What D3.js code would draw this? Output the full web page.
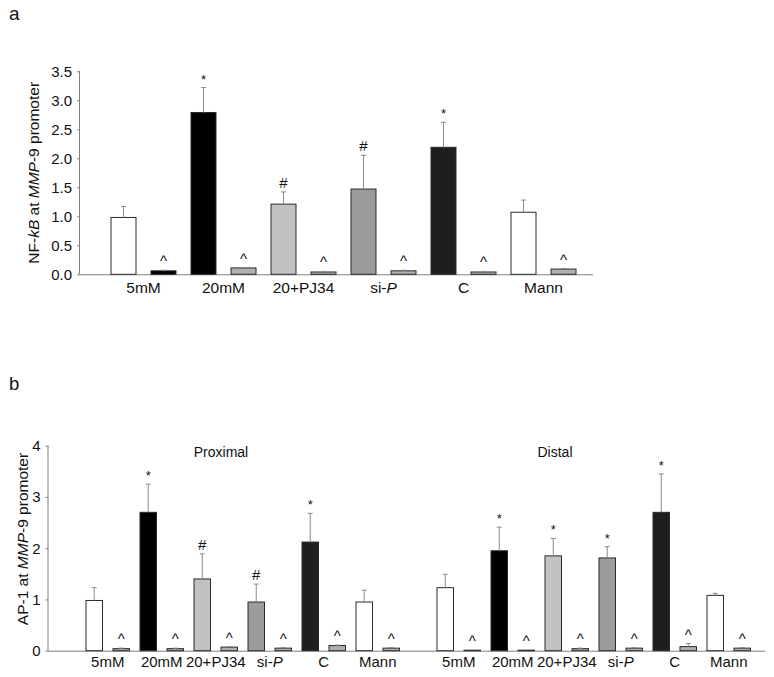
<!DOCTYPE html>
<html>
<head>
<meta charset="utf-8">
<script src="https://cdn.jsdelivr.net/npm/d3@7/dist/d3.min.js"></script>
<style>
  body { margin: 0; background: #fff; }
  svg text { font-family: "Liberation Sans", Arial, sans-serif; fill: #111; }
</style>
</head>
<body>
<svg id="chart" width="774" height="677"></svg>
<script>
// ---------- DATA ----------
const categories = ["5mM", "20mM", "20+PJ34", "si-P", "C", "Mann"];
const subKeys = ["treated", "control"];

// Panel a: NF-kB
const nfkbValues = [0.98, 2.79, 1.21, 1.47, 2.19, 1.07];
const nfkbErrors = [0.19, 0.43, 0.21, 0.58, 0.43, 0.21];
const nfkbSmall = [0.06, 0.11, 0.04, 0.06, 0.04, 0.09];
const nfkbSmallErr = [0.01, 0.005, 0.01, 0.01, 0.01, 0.01];
const nfkbMarks = ["", "*", "#", "#", "*", ""];
const nfkbSmallMarks = ["^", "^", "^", "^", "^", "^"];
const nfkbTicks = [0, 0.5, 1.0, 1.5, 2.0, 2.5, 3.0, 3.5];

// Panel b: AP-1
const regions = ["Proximal", "Distal"];
const ap1ProxValues = [0.98, 2.70, 1.40, 0.95, 2.12, 0.95];
const ap1ProxErrors = [0.25, 0.55, 0.49, 0.35, 0.56, 0.23];
const ap1ProxSmall = [0.04, 0.04, 0.07, 0.05, 0.10, 0.05];
const ap1ProxSmallErr = [0.01, 0.01, 0.01, 0.01, 0.01, 0.01];
const ap1ProxMarks = ["", "*", "#", "#", "*", ""];
const ap1DistValues = [1.23, 1.95, 1.85, 1.81, 2.70, 1.08];
const ap1DistErrors = [0.26, 0.46, 0.34, 0.22, 0.75, 0.04];
const ap1DistSmall = [0.01, 0.01, 0.04, 0.05, 0.08, 0.05];
const ap1DistSmallErr = [0.0, 0.0, 0.01, 0.01, 0.06, 0.01];
const ap1DistMarks = ["", "*", "*", "*", "*", ""];
const ap1SmallMarks = ["^", "^", "^", "^", "^", "^"];
const ap1Ticks = [0, 1, 2, 3, 4];

// ---------- STYLES ----------
const mainFill = ["#ffffff", "#000000", "#c2c2c2", "#9c9c9c", "#1e1e1e", "#ffffff"];
const smallFillA = ["#000000", "#b0b0b0", "#b0b0b0", "#b0b0b0", "#b0b0b0", "#b0b0b0"];
const smallFillB = ["#b0b0b0", "#b0b0b0", "#b0b0b0", "#b0b0b0", "#b0b0b0", "#b0b0b0"];
const axisColor = "#808080";
const errColor = "#8a8a8a";

const svg = d3.select("#chart");

function labelWithItalic(sel, name) {
  if (name.startsWith("si-")) {
    sel.append("tspan").text("si-");
    sel.append("tspan").attr("font-style", "italic").text(name.slice(3));
  } else {
    sel.text(name);
  }
}

function makeRows(vals, errs, small, smallErr, marks, smallMarks, smallFill) {
  return categories.map((c, i) => ({
    cat: c,
    bars: [
      { key: "treated", v: vals[i], e: errs[i], mark: marks[i], fill: mainFill[i] },
      { key: "control", v: small[i], e: smallErr[i], mark: smallMarks[i], fill: smallFill[i] }
    ]
  }));
}

function drawBars(g, rows, xCat, xSub, y, fs, labelDy) {
  const grp = g.selectAll("g.cat").data(rows).join("g")
    .attr("class", "cat")
    .attr("transform", d => `translate(${xCat(d.cat)},0)`);
  const bar = grp.selectAll("g.bar").data(d => d.bars).join("g").attr("class", "bar");
  bar.append("rect")
    .attr("x", d => xSub(d.key))
    .attr("width", xSub.bandwidth())
    .attr("y", d => y(d.v))
    .attr("height", d => y(0) - y(d.v))
    .attr("fill", d => d.fill)
    .attr("stroke", "#2a2a2a")
    .attr("stroke-width", 1);
  bar.filter(d => d.e > 0).append("line")
    .attr("x1", d => xSub(d.key) + xSub.bandwidth() / 2)
    .attr("x2", d => xSub(d.key) + xSub.bandwidth() / 2)
    .attr("y1", d => y(d.v))
    .attr("y2", d => y(d.v + d.e))
    .attr("stroke", errColor).attr("stroke-width", 1);
  bar.filter(d => d.e > 0).append("line")
    .attr("x1", d => xSub(d.key) + xSub.bandwidth() / 2 - 2.5)
    .attr("x2", d => xSub(d.key) + xSub.bandwidth() / 2 + 2.5)
    .attr("y1", d => y(d.v + d.e))
    .attr("y2", d => y(d.v + d.e))
    .attr("stroke", errColor).attr("stroke-width", 1);
  bar.filter(d => d.mark).append("text")
    .attr("x", d => xSub(d.key) + xSub.bandwidth() / 2)
    .attr("y", d => y(d.v + d.e) - 4)
    .attr("text-anchor", "middle")
    .attr("font-size", d => d.mark === "*" ? 13 : 15)
    .text(d => d.mark);
  grp.append("text")
    .attr("x", xSub.range()[1] / 2)
    .attr("y", y(0) + labelDy)
    .attr("text-anchor", "middle")
    .attr("font-size", fs)
    .each(function(d) { labelWithItalic(d3.select(this), d.cat); });
}

function drawYAxis(g, y, ticks, fmt, x0) {
  const ax = g.append("g").attr("transform", `translate(${x0},0)`)
    .call(d3.axisLeft(y).tickValues(ticks).tickFormat(fmt).tickSize(3).tickPadding(5));
  ax.select(".domain").attr("stroke", axisColor).attr("d", `M-0.5,${y.range()[0]}V${y.range()[1]}`);
  ax.selectAll(".tick line").attr("stroke", axisColor);
  ax.selectAll(".tick text").attr("font-size", 15)
    .attr("font-family", "'Liberation Sans', Arial, sans-serif").attr("fill", "#111");
}

// ---------- PANEL A ----------
{
  const g = svg.append("g");
  const y = d3.scaleLinear().domain([0, 3.5]).range([274.3, 71.3]);
  const xCat = d3.scaleBand().domain(categories).range([103.5, 583.5]);
  const xSub = d3.scaleBand().domain(subKeys).range([0, xCat.bandwidth()])
    .paddingInner(0.375).paddingOuter(0.1875);
  const rows = makeRows(nfkbValues, nfkbErrors, nfkbSmall, nfkbSmallErr, nfkbMarks, nfkbSmallMarks, smallFillA);
  g.append("line").attr("x1", 80).attr("x2", 593).attr("y1", y(0) + 0.5).attr("y2", y(0) + 0.5)
    .attr("stroke", axisColor);
  drawYAxis(g, y, nfkbTicks, d3.format(".1f"), 80);
  drawBars(g, rows, xCat, xSub, y, 15.5, 19);
  g.append("text").attr("x", 9).attr("y", 20).attr("font-size", 19).text("a");
  const yl = g.append("text").attr("transform", `translate(39,${(y.range()[0] + y.range()[1]) / 2}) rotate(-90)`)
    .attr("text-anchor", "middle").attr("font-size", 15.5);
  yl.append("tspan").text("NF-");
  yl.append("tspan").attr("font-style", "italic").text("kB");
  yl.append("tspan").text(" at ");
  yl.append("tspan").attr("font-style", "italic").text("MMP");
  yl.append("tspan").text("-9 promoter");
}

// ---------- PANEL B ----------
{
  const g = svg.append("g");
  const y = d3.scaleLinear().domain([0, 4]).range([650.7, 445.7]);
  const xReg = d3.scaleBand().domain(regions).range([80.75, 755.75]).paddingInner(27 / 351);
  const xCat = d3.scaleBand().domain(categories).range([0, xReg.bandwidth()]);
  const xSub = d3.scaleBand().domain(subKeys).range([0, xCat.bandwidth()])
    .paddingInner(0.389).paddingOuter(0.1944);
  const regionData = [
    makeRows(ap1ProxValues, ap1ProxErrors, ap1ProxSmall, ap1ProxSmallErr, ap1ProxMarks, ap1SmallMarks, smallFillB),
    makeRows(ap1DistValues, ap1DistErrors, ap1DistSmall, ap1DistSmallErr, ap1DistMarks, ap1SmallMarks, smallFillB)
  ];
  g.append("line").attr("x1", 48).attr("x2", 765).attr("y1", y(0) + 0.5).attr("y2", y(0) + 0.5)
    .attr("stroke", axisColor);
  drawYAxis(g, y, ap1Ticks, d3.format("d"), 48.5);
  const regionLabelX = [221, 555];
  regions.forEach((r, i) => {
    const rg = g.append("g").attr("transform", `translate(${xReg(r)},0)`);
    drawBars(rg, regionData[i], xCat, xSub, y, 15, 16);
    g.append("text").attr("x", regionLabelX[i]).attr("y", 457).attr("text-anchor", "middle")
      .attr("font-size", 14).text(r);
  });
  g.append("text").attr("x", 9).attr("y", 390).attr("font-size", 18.5).text("b");
  const yl = g.append("text").attr("transform", `translate(28,539) rotate(-90)`)
    .attr("text-anchor", "middle").attr("font-size", 15.5);
  yl.append("tspan").text("AP-1 at ");
  yl.append("tspan").attr("font-style", "italic").text("MMP");
  yl.append("tspan").text("-9 promoter");
}
</script>
</body>
</html>
